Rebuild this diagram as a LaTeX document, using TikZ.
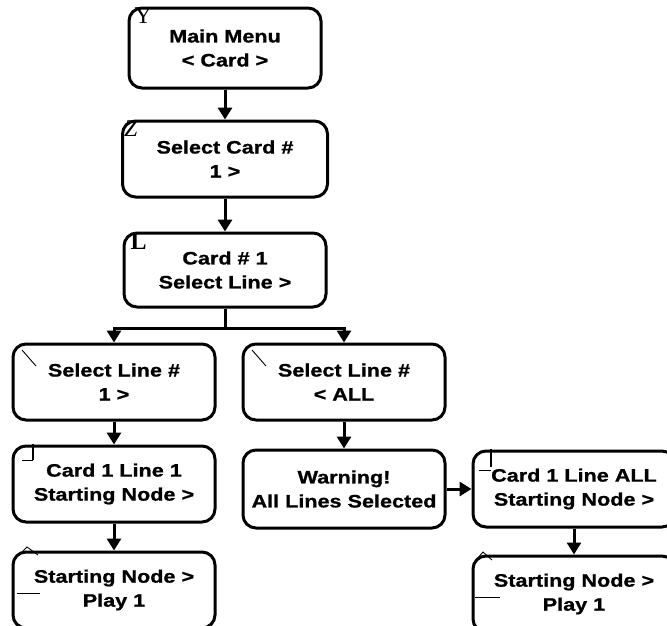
\documentclass[tikz,border=0pt]{standalone}
\usepackage{fontspec}
\setmainfont{Liberation Sans}[FakeStretch=1.2, BoldFeatures={FakeBold=1}]
\newfontfamily\markfont{Liberation Serif}
\usetikzlibrary{positioning,arrows.meta}

\tikzset{
  screen/.style={draw, line width=3pt, rounded corners=13pt,
    minimum width=202pt, minimum height=76pt, align=center, inner sep=2pt,
    font=\fontsize{18}{24}\selectfont\bfseries},
  flow/.style={line width=3pt, -{Triangle[width=14pt,length=12pt]}},
  glyph/.style={font=\markfont\fontsize{24}{24}\selectfont, inner sep=0pt, anchor=north west},
  stroke/.style={line width=0.9pt}
}

\begin{document}
\begin{tikzpicture}[x=1pt,y=-1pt]
  \useasboundingbox (0,0) rectangle (667,625);

  % menu screens
  \node[screen, minimum width=192pt, minimum height=80pt] (menu) at (225,48) {Main Menu\\< Card >};
  \node[screen, minimum width=205pt, below=30pt of menu] (selcard) {Select Card \#\\1 >};
  \node[screen, minimum height=74pt, below=33pt of selcard] (card) {Card \# 1\\Select Line >};
  \node[screen] (line1) at (114,382) {Select Line \#\\1 >};
  \node[screen] (lineall) at (344,382) {Select Line \#\\< ALL};
  \node[screen, below=23pt of line1] (start1) {Card 1 Line 1\\Starting Node >};
  \node[screen, below=27pt of start1] (play1) {Starting Node >\\Play 1};
  \node[screen, minimum height=78pt, below=27pt of lineall] (warn) {Warning!\\All Lines Selected};
  \node[screen, right=25pt of warn] (startall) {Card 1 Line ALL\\Starting Node >};
  \node[screen, below=26pt of startall] (playall) {Starting Node >\\Play 1};

  % key glyphs
  \node[glyph] (kmenu) at ([xshift=7pt,yshift=-1pt]menu.north west) {Y};
  \node[glyph] (kselcard) at ([xshift=3pt,yshift=-1pt]selcard.north west) {\textit{Z}};
  \node[glyph, font=\markfont\bfseries\fontsize{24}{24}\selectfont] (kcard) at ([xshift=8pt,yshift=-2pt]card.north west) {L};
  \draw[stroke] (22,350) -- (36,366);
  \draw[stroke] (252,350) -- (266,366);
  \draw[line width=2.5pt] (33,444) -- (33,460);
  \draw[stroke] (22,460) -- (33,460);
  \draw[line width=2.5pt] (491,449) -- (491,467);
  \draw[stroke] (479,470) -- (491,470);
  \draw[stroke] (19,555) -- (27,547) -- (38,555);
  \draw[stroke] (17,593) -- (40,593);
  \draw[stroke] (476,560) -- (483,552) -- (492,560);
  \draw[stroke] (475,597) -- (500,597);

  % connectors
  \draw[flow] (menu.south) -- (selcard.north);
  \draw[flow] (selcard.south) -- (card.north);
  \draw[flow] (card.south) -- ++(0,20) -| (line1.north);
  \draw[flow] (card.south) -- ++(0,20) -| (lineall.north);
  \draw[flow] (line1.south) -- (start1.north);
  \draw[flow] (start1.south) -- (play1.north);
  \draw[flow] (lineall.south) -- (warn.north);
  \draw[flow] (warn.east) -- (startall.west);
  \draw[flow] (startall.south) -- (playall.north);

\end{tikzpicture}
\end{document}
